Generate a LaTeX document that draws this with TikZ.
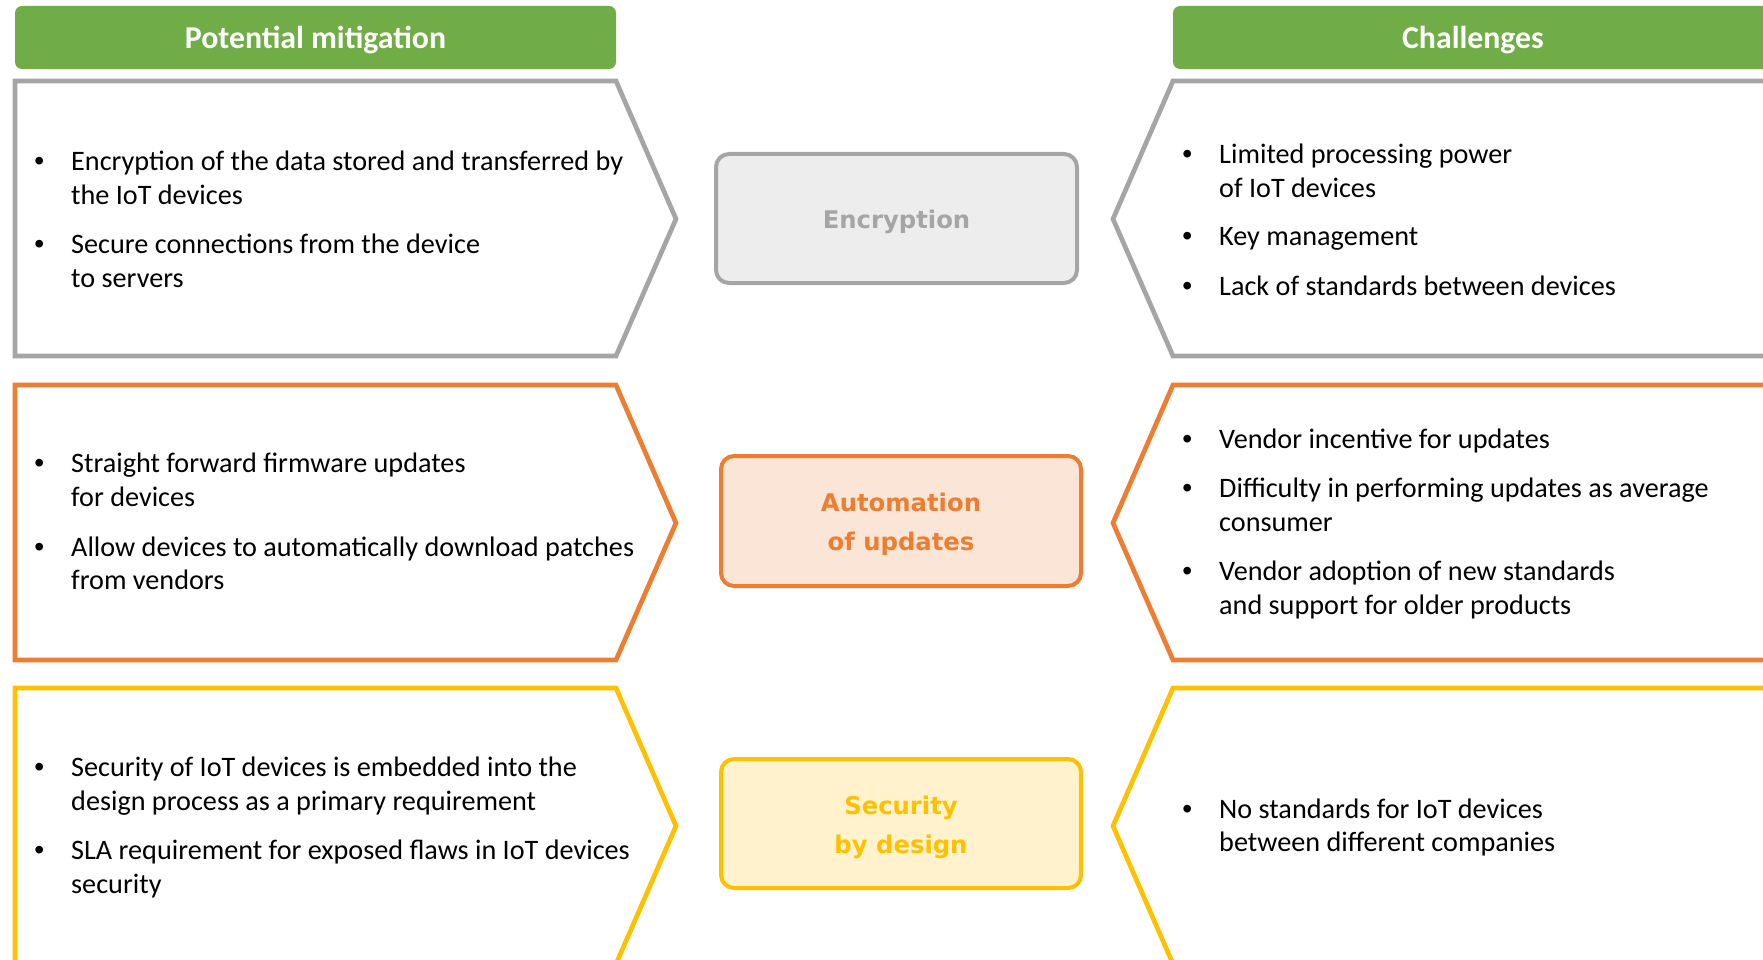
\documentclass[tikz,border=0pt]{standalone}
\usepackage{fontspec}
\setmainfont{Carlito}
\newfontfamily\badgefont{DejaVu Sans}
\newfontfamily\bulletfont{Liberation Sans}

\definecolor{hdrgreen}{HTML}{70AD47}
\definecolor{graybd}{HTML}{A5A5A5}
\definecolor{grayfill}{HTML}{EDEDED}
\definecolor{orangebd}{HTML}{ED7D31}
\definecolor{orangefill}{HTML}{FBE5D6}
\definecolor{yellowbd}{HTML}{FFC000}
\definecolor{yellowfill}{HTML}{FFF2CC}

% one bullet point: centred bullet, then the (possibly multi-line) text
\newcommand\bulletitem[2]{\makebox[64pt][c]{\bulletfont\textbullet}\parbox[t]{#1}{\raggedright #2}}

\begin{document}
\begin{tikzpicture}[x=1pt,y=-1pt,
  header/.style={fill=hdrgreen, rounded corners=7pt, inner sep=0pt},
  headtext/.style={text=white, inner sep=0pt, font=\fontsize{31.8}{36}\selectfont\bfseries},
  panel/.style={line width=4.7pt, fill=white, line join=miter},
  badge/.style={line width=4pt, rounded corners=13pt, inner sep=0pt},
  badgetext/.style={inner sep=0pt, align=center,
    font=\badgefont\bfseries\fontsize{24.3}{39}\selectfont},
  item/.style={anchor=base west, inner sep=0pt, font=\fontsize{28.2}{33.7}\selectfont}]

\useasboundingbox (0,0) rectangle (1763,960);
\clip (0,0) rectangle (1763,960);

% column headers
\node[header, minimum width=601pt, minimum height=63pt] (hleft) at (315.5,37.5) {};
\node[header, minimum width=600pt, minimum height=63pt] (hright) at (1473,37.5) {};
\node[headtext] (hlefttext) at ([yshift=-2.5pt]hleft.center) {Potential mitigation};
\node[headtext] (hrighttext) at ([yshift=-2.5pt]hright.center) {Challenges};

% arrow-shaped panels, left column pointing right, right column pointing left
\draw[panel, draw=graybd]   (15,81)  -- (616,81)  -- (676,219) -- (616,356) -- (15,356) -- cycle;
\draw[panel, draw=orangebd] (15,385) -- (616,385) -- (676,523) -- (616,660) -- (15,660) -- cycle;
\draw[panel, draw=yellowbd] (15,688) -- (616,688) -- (676,826) -- (616,964) -- (15,964) -- cycle;

\draw[panel, draw=graybd]   (1780,81)  -- (1173,81)  -- (1113,219) -- (1173,356) -- (1780,356);
\draw[panel, draw=orangebd] (1780,385) -- (1173,385) -- (1113,523) -- (1173,660) -- (1780,660);
\draw[panel, draw=yellowbd] (1780,688) -- (1173,688) -- (1113,826) -- (1173,964) -- (1780,964);

% central topic badges
\node[badge, draw=graybd, fill=grayfill,
  minimum width=361pt, minimum height=129pt] (enc) at (896.5,218.5) {};
\node[badge, draw=orangebd, fill=orangefill,
  minimum width=360pt, minimum height=130pt] (auto) at (901,521) {};
\node[badge, draw=yellowbd, fill=yellowfill,
  minimum width=360pt, minimum height=129pt] (sec) at (901,823.5) {};
\node[badgetext, text=graybd]   (enctext)  at ([yshift=-3.5pt]enc.center)  {Encryption};
\node[badgetext, text=orangebd] (autotext) at ([yshift=-3.5pt]auto.center) {Automation\\of updates};
\node[badgetext, text=yellowbd] (sectext)  at ([yshift=-3.5pt]sec.center)  {Security\\by design};

% mitigations
\node[item] (m11) at (7,170.5) {\bulletitem{620pt}{Encryption of the data stored and transferred by\\the IoT devices}};
\node[item] (m12) at (7,253.5) {\bulletitem{620pt}{Secure connections from the device\\to servers}};
\node[item] (m21) at (7,472.5) {\bulletitem{620pt}{Straight forward firmware updates\\for devices}};
\node[item] (m22) at (7,556) {\bulletitem{620pt}{Allow devices to automatically download patches\\from vendors}};
\node[item] (m31) at (7,776.5) {\bulletitem{620pt}{Security of IoT devices is embedded into the\\design process as a primary requirement}};
\node[item] (m32) at (7,859.5) {\bulletitem{620pt}{SLA requirement for exposed flaws in IoT devices\\security}};

% challenges
\node[item] (c11) at (1155,163.5) {\bulletitem{500pt}{Limited processing power\\of IoT devices}};
\node[item] (c12) at (1155,245.5) {\bulletitem{500pt}{Key management}};
\node[item] (c13) at (1155,295.5) {\bulletitem{500pt}{Lack of standards between devices}};
\node[item] (c21) at (1155,448) {\bulletitem{500pt}{Vendor incentive for updates}};
\node[item] (c22) at (1155,497.5) {\bulletitem{500pt}{Difficulty in performing updates as average\\consumer}};
\node[item] (c23) at (1155,580.5) {\bulletitem{500pt}{Vendor adoption of new standards\\and support for older products}};
\node[item] (c31) at (1155,818) {\bulletitem{500pt}{No standards for IoT devices\\between different companies}};

\end{tikzpicture}
\end{document}
